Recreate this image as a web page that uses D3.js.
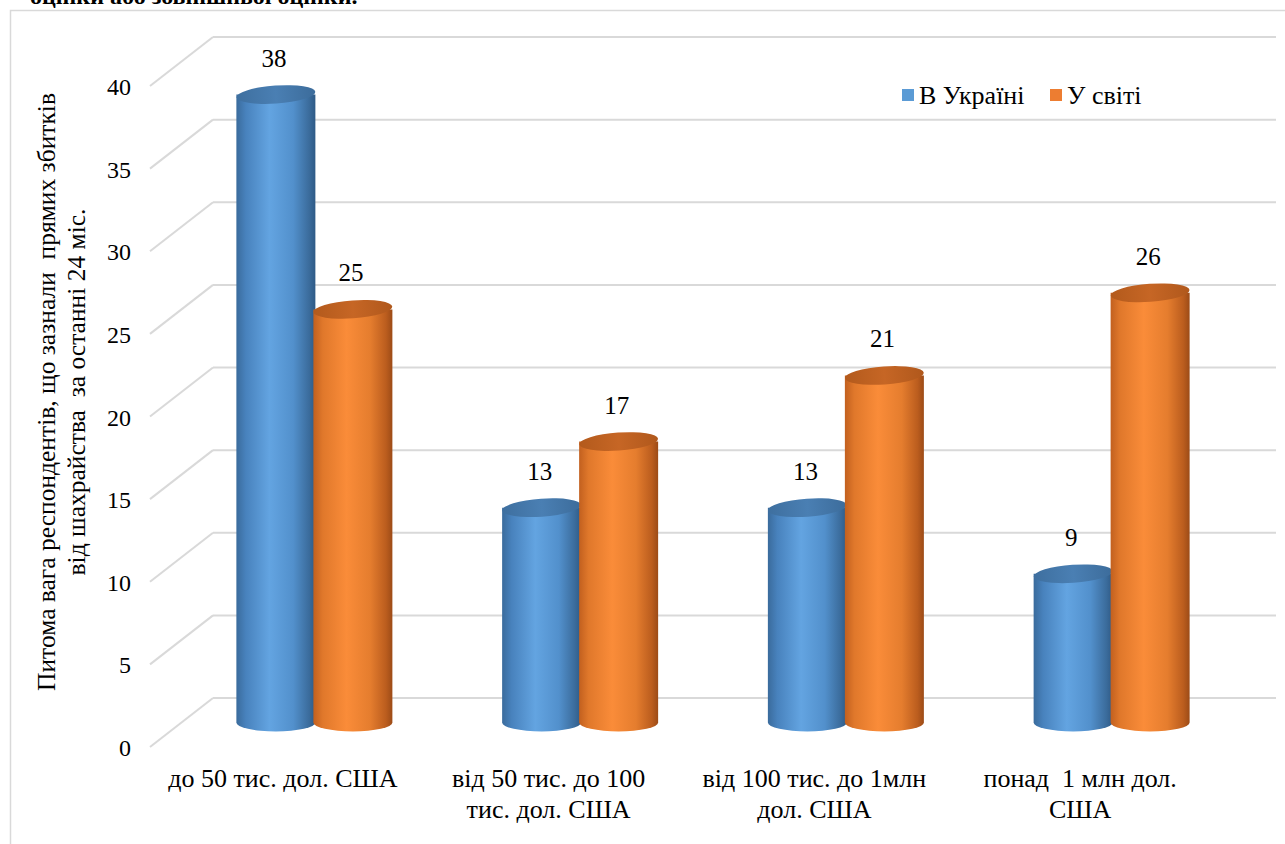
<!DOCTYPE html>
<html>
<head>
<meta charset="utf-8">
<script src="https://cdn.jsdelivr.net/npm/d3@7"></script>
<style>
  html, body { margin: 0; padding: 0; background: #fff; }
  svg text { font-family: "Liberation Serif", "Times New Roman", "DejaVu Serif", serif; }
</style>
</head>
<body>
<svg id="chart" width="1285" height="844"></svg>
<script>
// Loss size categories (two-line labels split with "\n")
const categories = [
  "до 50 тис. дол. США",
  "від 50 тис. до 100\nтис. дол. США",
  "від 100 тис. до 1млн\nдол. США",
  "понад  1 млн дол.\nСША"
];
const seriesNames = ["В Україні", "У світі"];
const ukraineValues = [38, 13, 13, 9];
const worldValues = [25, 17, 21, 26];
const yTicks = [0, 5, 10, 15, 20, 25, 30, 35, 40];

const FONT = "'Liberation Serif', 'Times New Roman', 'DejaVu Serif', serif";
const svg = d3.select("#chart");

// Outer frame of the chart area
svg.append("rect")
  .attr("x", 10.5).attr("y", 10.5)
  .attr("width", 1300).attr("height", 900)
  .attr("fill", "none").attr("stroke", "#d9d9d9").attr("stroke-width", 1.5);

// Preceding paragraph line, cut by the top edge
svg.append("text")
  .attr("x", 30).attr("y", 4)
  .attr("font-family", FONT)
  .attr("font-size", 24).attr("font-weight", "bold")
  .attr("fill", "#000")
  .style("white-space", "pre")
  .text("оцінки або зовнішньої оцінки.");

// 3D projection: front plane and depth offset
const depthDx = 63, depthDy = -49;
const y = d3.scaleLinear().domain([0, 40]).range([747, 86]);
const x = d3.scaleBand().domain(categories).range([150, 1213]);
const xSub = d3.scaleBand().domain(seriesNames).range([-77, 77]);

const defs = svg.append("defs");
function bodyGradient(id, stops) {
  const g = defs.append("linearGradient").attr("id", id)
    .attr("x1", "0%").attr("x2", "100%").attr("y1", "0%").attr("y2", "0%");
  stops.forEach(([o, c]) => g.append("stop").attr("offset", o).attr("stop-color", c));
}
bodyGradient("gBlue", [["0%", "#3a6b9c"], ["12%", "#4882bd"], ["42%", "#63a4e1"], ["72%", "#5290cc"], ["92%", "#3b6c9c"], ["100%", "#2e5a86"]]);
bodyGradient("gOrange", [["0%", "#c2601f"], ["12%", "#e0782b"], ["42%", "#fa8c39"], ["72%", "#e57d2e"], ["92%", "#bb5d1e"], ["100%", "#9c4b17"]]);
bodyGradient("gBlueTop", [["0%", "#3e6f9f"], ["50%", "#4a7fb3"], ["100%", "#3c6c9b"]]);
bodyGradient("gOrangeTop", [["0%", "#b35a1c"], ["50%", "#c66625"], ["100%", "#b0581c"]]);

const colors = {
  "В Україні": { body: "url(#gBlue)", top: "url(#gBlueTop)", legend: "#5b9bd5" },
  "У світі": { body: "url(#gOrange)", top: "url(#gOrangeTop)", legend: "#ed7d31" }
};

// Gridlines: back wall horizontal lines and side wall diagonals
const grid = svg.append("g").attr("stroke", "#d9d9d9").attr("stroke-width", 2).attr("fill", "none");
yTicks.forEach(t => {
  const yf = y(t);
  grid.append("line")
    .attr("x1", x.range()[0]).attr("y1", yf)
    .attr("x2", x.range()[0] + depthDx).attr("y2", yf + depthDy);
  grid.append("line")
    .attr("x1", x.range()[0] + depthDx).attr("y1", yf + depthDy)
    .attr("x2", x.range()[1] + depthDx).attr("y2", yf + depthDy);
});

// Y tick labels
svg.append("g").selectAll("text").data(yTicks).join("text")
  .attr("x", 131).attr("y", d => y(d) + 9)
  .attr("font-family", FONT)
  .attr("text-anchor", "end").attr("font-size", 24).attr("fill", "#000")
  .text(d => d);

// Y axis title (two lines, rotated)
const yTitle = svg.append("text")
  .attr("transform", "translate(0,392) rotate(-90)")
  .attr("font-family", FONT)
  .attr("text-anchor", "middle").attr("font-size", 25.5).attr("fill", "#000")
  .style("white-space", "pre");
yTitle.append("tspan").attr("x", 0).attr("y", 55).text("Питома вага респондентів, що зазнали  прямих збитків");
yTitle.append("tspan").attr("x", 0).attr("y", 85).text("від шахрайства  за останні 24 міс.");

// Cylinders, drawn at mid-depth
const rx = 39.5, ry = 9;
const bars = [];
categories.forEach((c, i) => {
  bars.push({ cat: c, series: seriesNames[0], value: ukraineValues[i] });
  bars.push({ cat: c, series: seriesNames[1], value: worldValues[i] });
});
const barG = svg.append("g");
bars.forEach(b => {
  const cx = x(b.cat) + x.bandwidth() / 2 + depthDx / 2 + xSub(b.series) + xSub.bandwidth() / 2;
  const yBase = y(0) + depthDy / 2;
  const yTop = y(b.value) + depthDy / 2;
  const g = barG.append("g");
  g.append("path")
    .attr("d", `M${cx - rx},${yTop} L${cx - rx},${yBase} A${rx},${ry} 0 0 0 ${cx + rx},${yBase} L${cx + rx},${yTop} Z`)
    .attr("fill", colors[b.series].body);
  g.append("ellipse")
    .attr("cx", cx).attr("cy", yTop).attr("rx", rx).attr("ry", ry)
    .attr("transform", `rotate(-4,${cx},${yTop})`)
    .attr("fill", colors[b.series].top);
  g.append("text")
    .attr("x", cx - 2).attr("y", yTop - ry - 19)
    .attr("font-family", FONT)
    .attr("text-anchor", "middle").attr("font-size", 25).attr("fill", "#000")
    .text(b.value);
});

// Category labels
svg.append("g").selectAll("text").data(categories).join("text")
  .attr("font-family", FONT)
  .attr("text-anchor", "middle").attr("font-size", 26).attr("fill", "#000")
  .style("white-space", "pre")
  .each(function (d) {
    const lines = d.split("\n");
    const t = d3.select(this);
    lines.forEach((l, k) => {
      t.append("tspan").attr("x", x(d) + x.bandwidth() / 2).attr("y", 787 + k * 31).text(l);
    });
  });

// Legend
const legend = svg.append("g");
const legendItems = [
  { name: seriesNames[0], x: 902 },
  { name: seriesNames[1], x: 1050 }
];
legendItems.forEach(it => {
  legend.append("rect").attr("x", it.x).attr("y", 89).attr("width", 12).attr("height", 12)
    .attr("fill", colors[it.name].legend);
  legend.append("text").attr("x", it.x + 17).attr("y", 104)
    .attr("font-family", FONT)
    .attr("font-size", 26).attr("fill", "#000").text(it.name);
});
</script>
</body>
</html>
